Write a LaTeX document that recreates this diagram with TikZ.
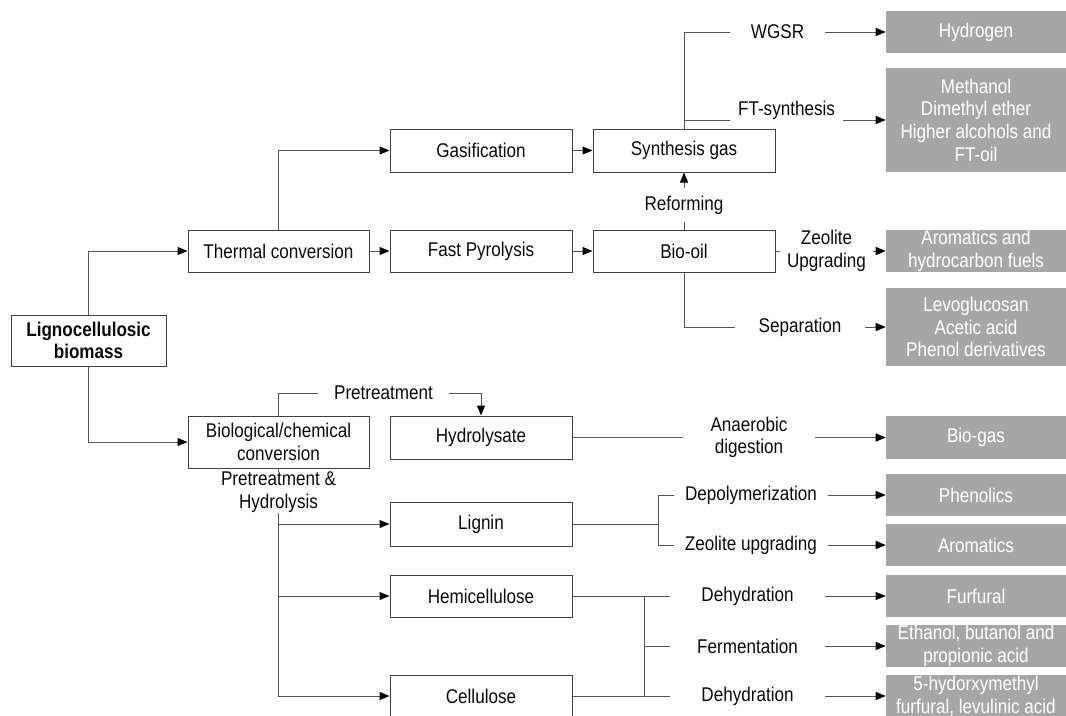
\documentclass[tikz,border=0pt]{standalone}
\usepackage{fontspec}
\setmainfont{Liberation Sans}[FakeStretch=0.86]
\usepackage{xcolor}
\usepackage{tikz}
\usetikzlibrary{positioning, arrows.meta, calc}

\definecolor{linegray}{RGB}{85,85,85}
\definecolor{boxline}{RGB}{65,65,65}
\definecolor{prodgray}{RGB}{166,166,166}
\definecolor{textblack}{RGB}{10,10,10}

\begin{document}
\begin{tikzpicture}[x=0.75pt, y=-0.75pt,
	font=\fontsize{14.9pt}{17pt}\selectfont, text=textblack,
	procbox/.style={draw=boxline, line width=0.75pt, rectangle, minimum width=136.5pt, minimum height=32.25pt, align=center, inner sep=0pt},
	prodbox/.style={fill=prodgray, text=white, rectangle, minimum width=135pt, minimum height=31.5pt, align=center, inner sep=0pt},
	lbl/.style={rectangle, align=center, inner sep=0pt},
	conn/.style={draw=linegray, line width=0.75pt},
	arr/.style={conn, -{Triangle[length=7.5pt, width=6pt, color=black]}}]
	\useasboundingbox (0,0) rectangle (1066,715);
	
	% Process boxes
	\node[procbox, minimum width=116.25pt, minimum height=38.25pt, font=\fontsize{14.9pt}{17pt}\selectfont\bfseries] (biomass) at (88.5,340.5) {Lignocellulosic\\biomass};
	\node[procbox, minimum width=135.75pt, minimum height=31.5pt] (thermal) at (278.5,251) {Thermal conversion};
	\node[procbox, minimum width=135.75pt, minimum height=39pt] (biochem) at (278.5,442) {Biological/chemical\\conversion};
	\node[procbox] (gasif) at (481,150.5) {Gasification};
	\node[procbox] (syngas) at (684,150.5) {Synthesis gas};
	\node[procbox, minimum height=31.5pt] (pyro) at (481,251) {Fast Pyrolysis};
	\node[procbox, minimum height=31.5pt] (biooil) at (684,251) {Bio-oil};
	\node[procbox] (hydrolysate) at (481,437.5) {Hydrolysate};
	\node[procbox, minimum height=33pt] (lignin) at (481,524) {Lignin};
	\node[procbox, minimum height=31.5pt] (hemi) at (481,596) {Hemicellulose};
	\node[procbox, minimum height=31.5pt] (cellulose) at (481,696) {Cellulose};
	
	% Products
	\node[prodbox] (hydrogen) at (976,32) {Hydrogen};
	\node[prodbox, minimum height=78pt] (methanol) at (976,120) {Methanol\\Dimethyl ether\\Higher alcohols and\\FT-oil};
	\node[prodbox] (aromfuel) at (976,251) {Aromatics and\\hydrocarbon fuels};
	\node[prodbox, minimum height=58.5pt] (levo) at (976,327) {Levoglucosan\\Acetic acid\\Phenol derivatives};
	\node[prodbox, minimum height=32.25pt] (biogas) at (976,437.5) {Bio-gas};
	\node[prodbox] (phenolics) at (976,495) {Phenolics};
	\node[prodbox] (aromatics) at (976,545) {Aromatics};
	\node[prodbox] (furfural) at (976,596) {Furfural};
	\node[prodbox] (ethanol) at (976,646) {Ethanol, butanol and\\propionic acid};
	\node[prodbox] (hmf) at (976,696) {5-hydorxymethyl\\furfural, levulinic acid};
	
	% Process labels
	\node[lbl, minimum width=71.25pt] (wgsr) at (777.5,32) {WGSR};
	\node[lbl, minimum width=84.75pt] (ftsyn) at (786.5,110) {FT-synthesis};
	\node[lbl, minimum height=25.5pt] (reform) at (684,205) {Reforming};
	\node[lbl, minimum width=69.75pt] (zeolite) at (826.5,251) {Zeolite\\Upgrading};
	\node[lbl, minimum width=97.5pt] (separation) at (800,327) {Separation};
	\node[lbl, minimum width=98.25pt] (pretreat) at (383.5,393) {Pretreatment};
	\node[lbl, minimum height=30.75pt] (prehydro) at (278.5,492.5) {Pretreatment \&\\Hydrolysis};
	\node[lbl, minimum width=99pt] (anaerobic) at (749,437.5) {Anaerobic\\digestion};
	\node[lbl, minimum width=115.5pt] (depoly) at (751,495) {Depolymerization};
	\node[lbl, minimum width=115.5pt] (zeoup) at (751,545) {Zeolite upgrading};
	\node[lbl, minimum width=116.25pt] (dehydA) at (747.5,596) {Dehydration};
	\node[lbl, minimum width=116.25pt] (ferment) at (747.5,646) {Fermentation};
	\node[lbl, minimum width=116.25pt] (dehydB) at (747.5,696) {Dehydration};
	
	\coordinate (ligsplit) at (658,524);
	\coordinate (sugarsplit) at (644,596);
	
	% Thermal route
	\draw[arr] (biomass.north) |- (thermal.west);
	\draw[arr] (biomass.south) |- (biochem.west);
	\draw[arr] (thermal.north) |- (gasif.west);
	\draw[arr] (thermal.east) -- (pyro.west);
	\draw[arr] (gasif.east) -- (syngas.west);
	\draw[arr] (pyro.east) -- (biooil.west);
	\draw[conn] (syngas.north) |- (wgsr.west);
	\draw[arr] (wgsr.east) -- (hydrogen.west);
	\draw[conn] (syngas.north) |- ([yshift=-7.5pt]ftsyn.west);
	\draw[arr] ([yshift=-7.5pt]ftsyn.east) -- ([yshift=-7.5pt]ftsyn.east -| methanol.west);
	\draw[conn] (biooil.north) -- (reform.south);
	\draw[arr] (reform.north) -- (syngas.south);
	\draw[conn] (biooil.east) -- (zeolite.west);
	\draw[arr] (zeolite.east) -- (aromfuel.west);
	\draw[conn] (biooil.south) |- (separation.west);
	\draw[arr] (separation.east) -- (levo.west);
	
	% Biological/chemical route
	\draw[conn] (biochem.north) |- (pretreat.west);
	\draw[arr] (pretreat.east) -| (hydrolysate.north);
	\draw[conn] (hydrolysate.east) -- (anaerobic.west);
	\draw[arr] (anaerobic.east) -- (biogas.west);
	\draw[conn] (biochem.south) -- (prehydro.north);
	\draw[arr] (prehydro.south) |- (lignin.west);
	\draw[arr] (prehydro.south) |- (hemi.west);
	\draw[arr] (prehydro.south) |- (cellulose.west);
	\draw[conn] (lignin.east) -- (ligsplit);
	\draw[conn] (ligsplit) |- (depoly.west);
	\draw[conn] (ligsplit) |- (zeoup.west);
	\draw[arr] (depoly.east) -- (phenolics.west);
	\draw[arr] (zeoup.east) -- (aromatics.west);
	\draw[conn] (hemi.east) -- (dehydA.west);
	\draw[conn] (cellulose.east) -- (dehydB.west);
	\draw[conn] (sugarsplit) -- (sugarsplit |- cellulose.east);
	\draw[conn] (sugarsplit |- ferment.west) -- (ferment.west);
	\draw[arr] (dehydA.east) -- (furfural.west);
	\draw[arr] (ferment.east) -- (ethanol.west);
	\draw[arr] (dehydB.east) -- (hmf.west);
\end{tikzpicture}
\end{document}
